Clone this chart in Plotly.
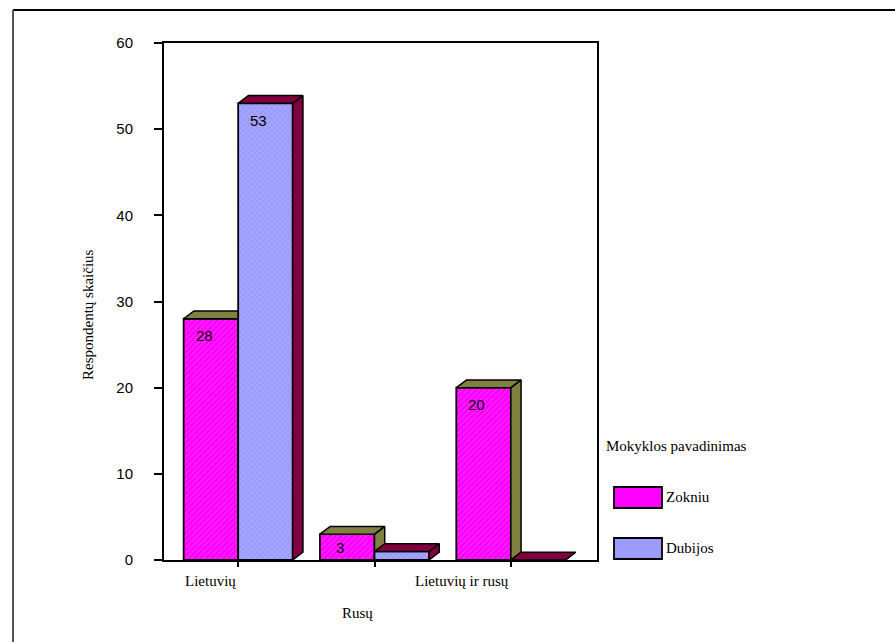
import plotly.graph_objects as go

# Respondents by language of instruction, per school
categories = ["Lietuvių", "Rusų", "Lietuvių ir rusų"]
series_names = ["Zokniu", "Dubijos"]
zokniu = [28, 3, 20]
dubijos = [53, 1, 0]
y_ticks = [0, 10, 20, 30, 40, 50, 60]

y_title = "Respondentų skaičius"
legend_title = "Mokyklos pavadinimas"

# styling
FRONT = {"Zokniu": "#ff00ff", "Dubijos": "#9c9cff"}
FRONT_FG = {"Zokniu": "#ff66ff", "Dubijos": "#c8c8ff"}
SHAPE = {"Zokniu": "/", "Dubijos": "x"}
SIDE = {"Zokniu": "#808040", "Dubijos": "#800040"}
BAR_W = 0.4          # width of each bar in category units
DX, DY = 0.075, 0.9  # 3-D depth offset (x in category units, y in data units)
SANS = "Liberation Sans"
SERIF = "Liberation Serif"

# plot area in pixels
W, H = 895, 642
L, R, T, B = 164, 298, 43, 82
X_RANGE = [-0.544, 2.632]


def px_x(px):
    return (px - L) / (W - L - R)


def px_y(py):
    return (H - B - py) / (H - T - B)


fig = go.Figure()

for k, (name, vals) in enumerate(zip(series_names, [zokniu, dubijos])):
    xa = "x" if k == 0 else "x2"
    ya = "y" if k == 0 else "y2"
    offset = -BAR_W if k == 0 else 0.0
    xs = list(range(len(categories)))
    fig.add_trace(go.Bar(
        x=xs, y=vals, width=BAR_W, offset=offset, name=name,
        xaxis=xa, yaxis=ya, showlegend=False,
        marker=dict(
            color=FRONT[name],
            line=dict(color="black", width=1.8),
            pattern=dict(shape=SHAPE[name], bgcolor=FRONT[name],
                         fgcolor=FRONT_FG[name], size=4, solidity=0.25),
        ),
        hoverinfo="skip",
    ))
    # side and top faces for the 3-D look
    for i, v in enumerate(vals):
        xl = i + offset
        xr = xl + BAR_W
        side_x = [xr, xr + DX, xr + DX, xr, xr]
        side_y = [0, DY, v + DY, v, 0]
        top_x = [xl, xl + DX, xr + DX, xr, xl]
        top_y = [v, v + DY, v + DY, v, v]
        for fx, fy in ((side_x, side_y), (top_x, top_y)):
            fig.add_trace(go.Scatter(
                x=fx, y=fy, mode="lines", fill="toself",
                fillcolor=SIDE[name], line=dict(color="black", width=1.5),
                xaxis=xa, yaxis=ya, showlegend=False, hoverinfo="skip",
            ))
        # value label near the top of the front face
        if v > 1:
            fig.add_annotation(
                x=i + offset + BAR_W / 2 - 0.05, y=v, xref=xa, yref=ya,
                text=str(v), showarrow=False, yanchor="middle", yshift=-17 if v > 5 else -13,
                font=dict(family=SANS, size=15, color="black"),
            )

# category labels, right-aligned to the ticks and staggered
for i, cat in enumerate(categories):
    fig.add_annotation(
        x=i, y=0, xref="x", yref="y", text=cat, showarrow=False,
        xanchor="right", yanchor="top", yshift=-11 if i % 2 == 0 else -43,
        font=dict(family=SERIF, size=15, color="black"),
    )

# y-axis title
fig.add_annotation(
    x=px_x(88), y=px_y(315), xref="paper", yref="paper", text=y_title,
    textangle=-90, showarrow=False, xanchor="center", yanchor="middle",
    font=dict(family=SERIF, size=15, color="black"),
)

# legend drawn by hand
fig.add_annotation(
    x=px_x(604), y=px_y(446), xref="paper", yref="paper", text=legend_title,
    showarrow=False, xanchor="left", yanchor="middle",
    font=dict(family=SERIF, size=15, color="black"),
)
for j, name in enumerate(series_names):
    top = 487 + j * 51
    fig.add_shape(
        type="rect", xref="paper", yref="paper",
        x0=px_x(614), x1=px_x(662), y0=px_y(top), y1=px_y(top + 21),
        fillcolor=FRONT[name], line=dict(color="black", width=1.8),
    )
    fig.add_annotation(
        x=px_x(664), y=px_y(top + 10), xref="paper", yref="paper", text=name,
        showarrow=False, xanchor="left", yanchor="middle",
        font=dict(family=SERIF, size=15, color="black"),
    )

# outer frame (top and left edges)
fig.add_shape(type="line", xref="paper", yref="paper",
              x0=px_x(13), x1=px_x(W), y0=px_y(10), y1=px_y(10),
              line=dict(color="black", width=2))
fig.add_shape(type="line", xref="paper", yref="paper",
              x0=px_x(13), x1=px_x(13), y0=px_y(10), y1=px_y(H),
              line=dict(color="#555555", width=2))

fig.update_layout(
    width=W, height=H,
    margin=dict(l=L, r=R, t=T, b=B, pad=0),
    paper_bgcolor="white", plot_bgcolor="white",
    barmode="overlay", showlegend=False,
    font=dict(family=SERIF),
    xaxis=dict(range=X_RANGE, tickvals=[0, 1, 2], showticklabels=False,
               ticks="outside", ticklen=5, tickwidth=1.5, tickcolor="black",
               showline=True, linecolor="black", linewidth=2, mirror=True,
               showgrid=False, zeroline=False, fixedrange=True),
    yaxis=dict(range=[0, 60], tickvals=y_ticks, ticks="outside", ticklen=8,
               tickwidth=1.5, tickcolor="black", ticklabelstandoff=18,
               showline=True, linecolor="black", linewidth=2, mirror=True,
               showgrid=False, zeroline=False, fixedrange=True,
               tickfont=dict(family=SANS, size=15, color="black")),
    xaxis2=dict(overlaying="x", matches="x", visible=False, range=X_RANGE),
    yaxis2=dict(overlaying="y", matches="y", visible=False, range=[0, 60]),
)

fig.write_html("out.html")
